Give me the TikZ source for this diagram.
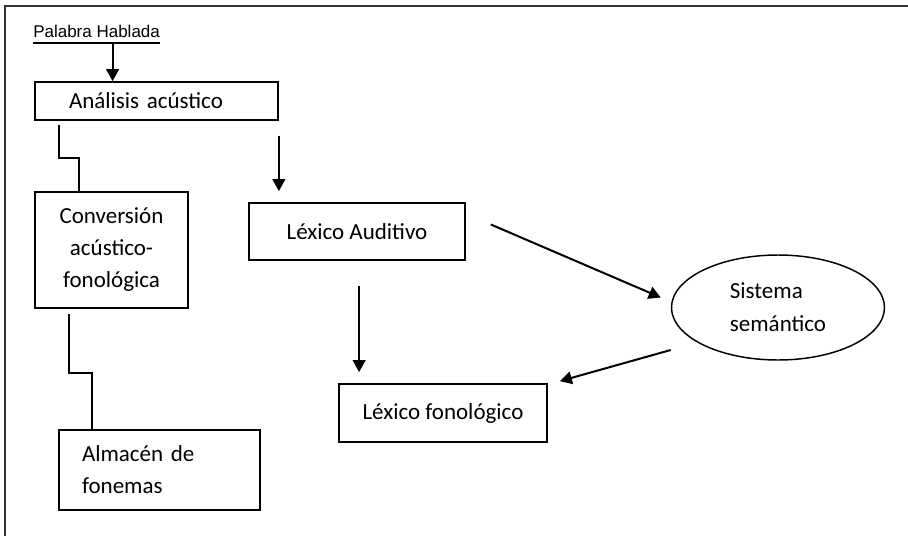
\documentclass[tikz,border=0pt]{standalone}
\usepackage{fontspec}
\setmainfont{Carlito}
\newfontfamily\arialfont{Liberation Sans}
\usetikzlibrary{shapes.geometric,arrows.meta,calc}

\begin{document}
\begin{tikzpicture}[x=0.75pt,y=-0.75pt,
  box/.style={draw=black,line width=1.3pt,rectangle,inner sep=0pt,
    font=\fontsize{17.25}{24}\selectfont},
  oval/.style={draw=black,line width=1.1pt,ellipse,inner sep=0pt,
    minimum width=159.75pt,minimum height=78.75pt,
    font=\fontsize{17.25}{24.75}\selectfont,align=left},
  arr/.style={line width=1.5pt,-{Triangle[length=9pt,width=9.5pt]}},
  link/.style={line width=1.2pt},
  frame/.style={draw=black!80,line width=1.2pt}]

\useasboundingbox (0,0) rectangle (908,536);

% page frame (top and left edges)
\draw[frame] (5,536) -- (5,6) -- (908,6);

% title with underline
\node[anchor=base west,inner sep=0pt,font=\arialfont\fontsize{12.75}{15}\selectfont]
  (pal) at (33,37) {Palabra Hablada};
\draw[line width=1.5pt] ($(pal.base west)+(0,6)$) -- ($(pal.base east)+(0,6)$);

% boxes
\node[box,text width=131.25pt,inner xsep=25.5pt,align=left,
  minimum height=28.5pt] (ana) at (156.5,101) {Análisis acústico};
\node[box,minimum width=114.75pt,minimum height=87pt,align=center]
  (conv) at (111.5,250) {Conversión\\acústico-\\fonológica};
\node[box,text width=116.25pt,inner xsep=17.25pt,align=left,
  minimum height=60pt] (alm) at (159.5,470) {Almacén de\\fonemas};
\node[box,minimum width=162pt,minimum height=42.75pt]
  (lexaud) at (357,231.5) {Léxico Auditivo};
\node[box,minimum width=156pt,minimum height=43.5pt]
  (lexfon) at (443,413) {Léxico fonológico};
\node[oval] (sem) at (778,307.5) {Sistema\\semántico};

% connectors
\draw[arr] ([xshift=12pt,yshift=-4.5pt]pal.south) coordinate (p1) -- (p1 |- ana.north);
\draw[link] ($(ana.south west)+(25,4)$) -- ++(0,33) -| ($(conv.north west)+(45,0)$);
\draw[link] ($(conv.south west)+(35,5)$) -- ++(0,59) -| ($(alm.north west)+(34,0)$);
\draw[arr] ($(ana.south east)+(0,15)$) -- ($(ana.south east |- lexaud.north)+(0,-11)$);
\draw[arr] ($(lexaud.south west)+(111,25)$) coordinate (p2)
  -- ($(p2 |- lexfon.north)+(0,-11)$);
\draw[arr] ($(lexaud.east)+(25,-7)$) -- ($(sem.west)+(-10,-10)$);
\draw[arr] ($(sem.west)+(0,42.5)$) -- ($(lexfon.north east)+(12,-2)$);

\end{tikzpicture}
\end{document}
